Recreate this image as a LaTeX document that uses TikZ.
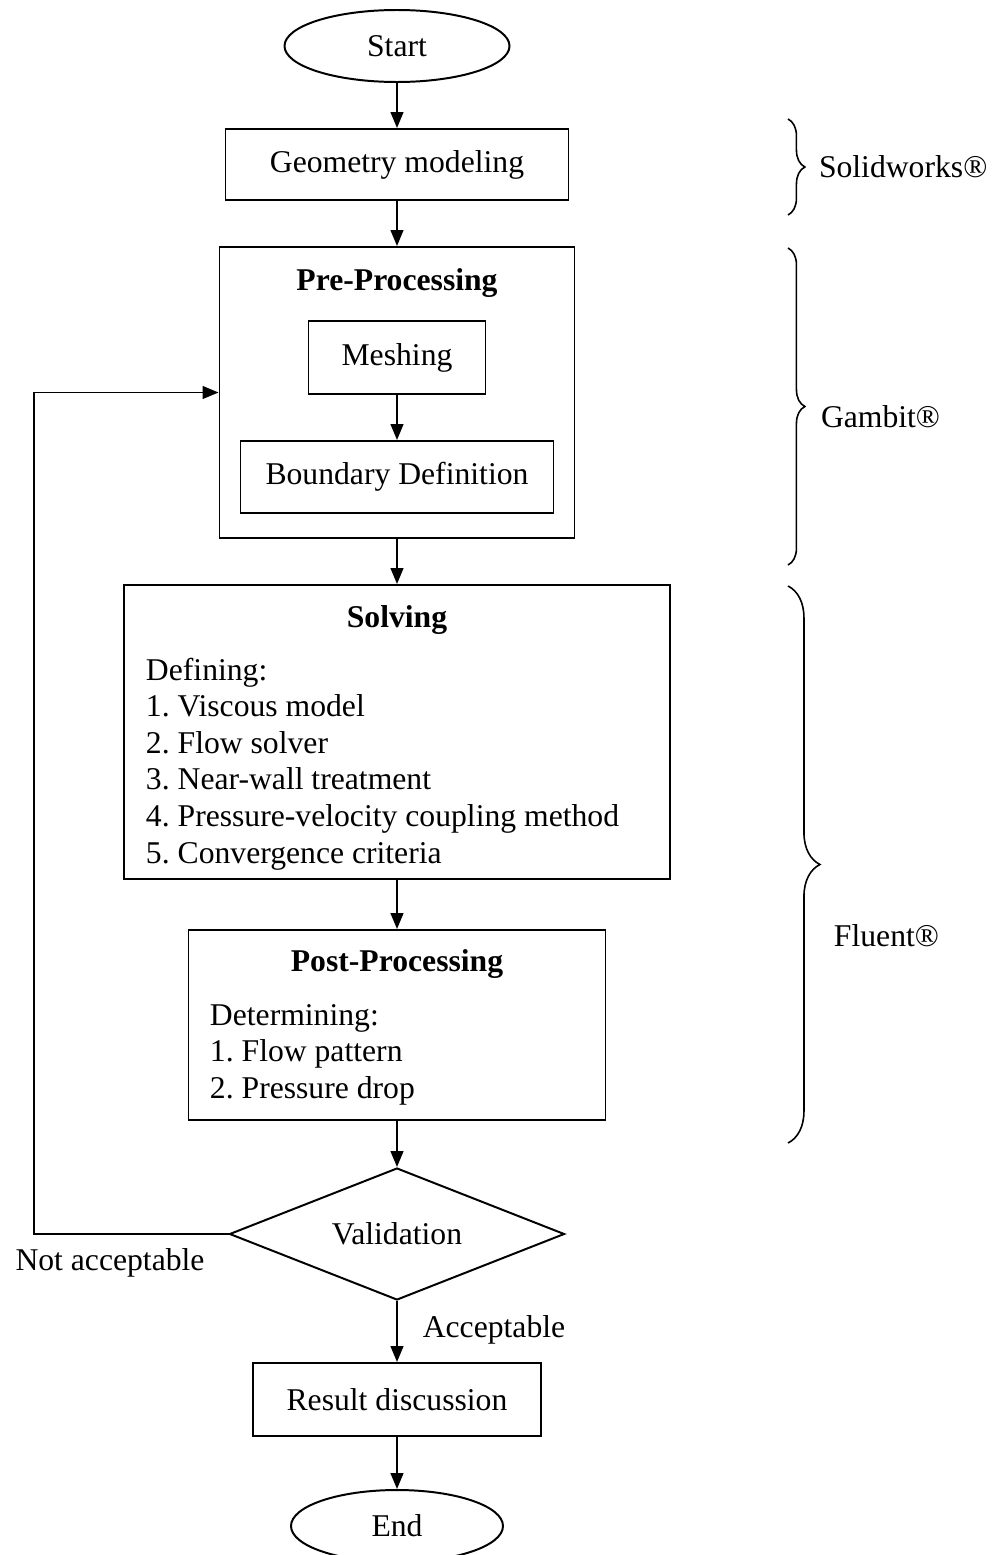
\documentclass[tikz,border=0pt,12pt]{standalone}
\usepackage{fontspec}
\setmainfont{Liberation Serif}
\usetikzlibrary{arrows.meta,shapes.geometric,decorations.pathreplacing}

\newcommand\px{0.379pt}
\frenchspacing

\tikzset{
  block/.style 2 args={
    draw,
    minimum width=#1*\px,
    minimum height=#2*\px,
    inner sep=0pt,
  },
  terminal/.style 2 args={
    block={#1}{#2},
    ellipse,
  },
  decision/.style 2 args={
    block={#1}{#2},
    diamond,
    aspect=2.5,
  },
  title/.style={
    font=\bfseries,
    anchor=base,
    inner sep=0pt,
  },
  entry/.style={
    anchor=base west,
    inner sep=0pt,
  },
  bracket/.style={
    decorate,
    decoration={brace, amplitude=#1},
    line width=0.6pt,
  },
  tool/.style={
    anchor=west,
    inner sep=0pt,
  },
}

\begin{document}
\begin{tikzpicture}[x=\px, y=-\px, line width=0.75pt,
  >={Triangle[length=6pt, width=4.8pt]}]

  \useasboundingbox (0,0) rectangle (997,1555);

  % flow
  \node[terminal={225}{72}] (start) at (397,46) {Start};
  \node[block={343}{71}] (geo) at (397,164.5) {Geometry modeling};
  \node[block={355}{291}] (pre) at (397,392.5) {};
  \node[title] (pre title) at (397,290) {Pre-Processing};
  \node[block={177}{73}] (mesh) at (397,357.5) {Meshing};
  \node[block={313}{72}] (bound) at (397,477) {Boundary Definition};

  \node[block={546}{294}] (solve) at (397,732) {};
  \node[title] (solve title) at (397,627) {Solving};
  \foreach \t [count=\i] in {Defining:, 1. Viscous model, 2. Flow solver,
    3. Near-wall treatment, 4. Pressure-velocity coupling method,
    5. Convergence criteria}
    \node[entry] (solve \i) at (145,643.4+36.6*\i) {\t};

  \node[block={417}{190}] (post) at (397,1025) {};
  \node[title] (post title) at (397,971) {Post-Processing};
  \foreach \t [count=\i] in {Determining:, 1. Flow pattern, 2. Pressure drop}
    \node[entry] (post \i) at (209,988.4+36.6*\i) {\t};

  \node[decision={335}{132}] (valid) at (397,1234) {Validation};
  \node[block={288}{73}] (result) at (397,1399.5) {Result discussion};
  \node[terminal={212}{72}] (finish) at (397,1526) {End};

  \foreach \a/\b in {start/geo, geo/pre, mesh/bound, pre/solve,
    solve/post, post/valid, valid/result, result/finish}
    \draw[->] (\a) -- (\b);

  % loop back
  \coordinate (back) at (34,392.5);
  \draw[->] (valid.west) -| (back) -- (pre.west);
  \node (nok) at (110,1263) {Not acceptable};
  \node (ok) at (494,1330) {Acceptable};

  % software
  \draw[bracket=6.4pt] (788,119) -- (788,215);
  \node[tool] (sw) at (818,167) {Solidworks®};
  \draw[bracket=6.4pt] (788,248) -- (788,565);
  \node[tool] (gambit) at (820,417) {Gambit®};
  \draw[bracket=12.1pt] (788,586) -- (788,1143);
  \node[tool] (fluent) at (833,936) {Fluent®};

\end{tikzpicture}
\end{document}
